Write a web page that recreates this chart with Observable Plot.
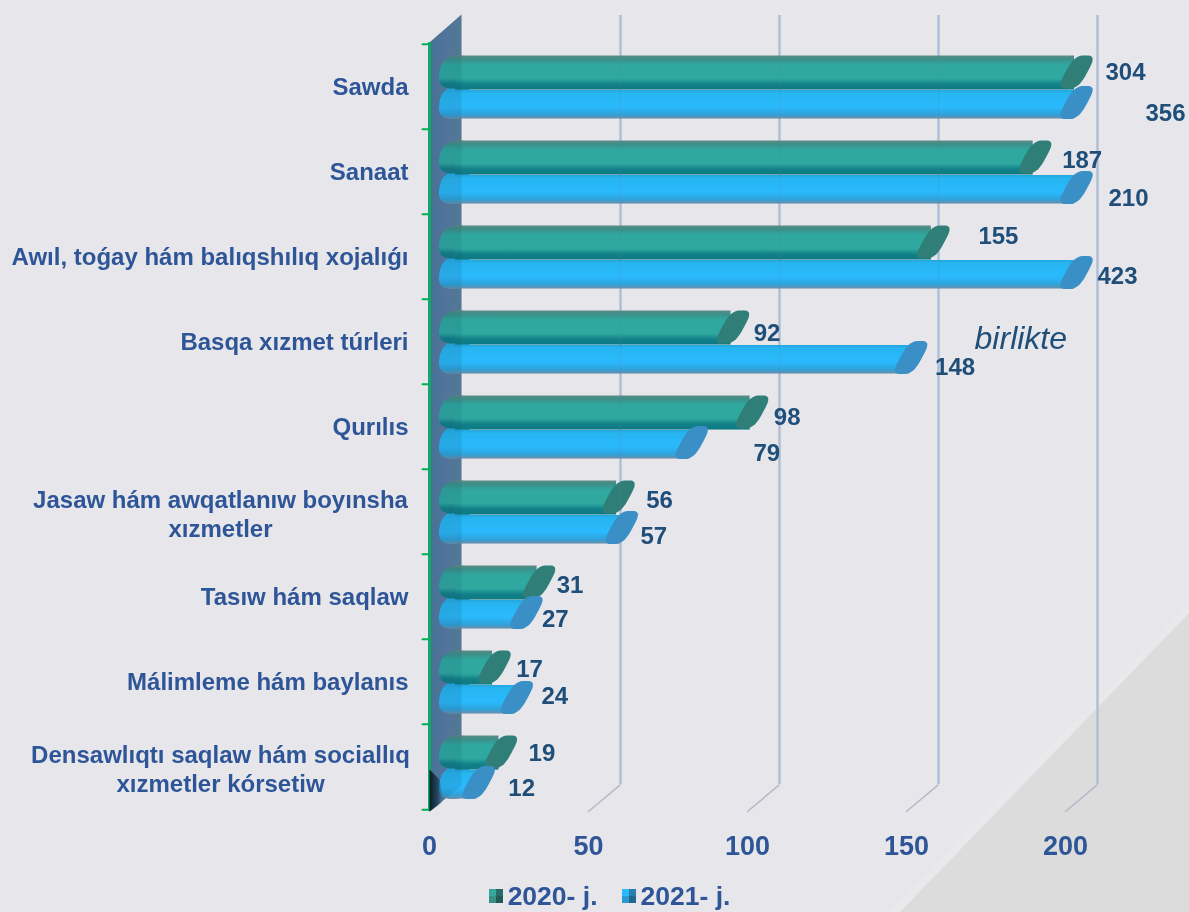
<!DOCTYPE html>
<html><head><meta charset="utf-8">
<script src="https://cdn.jsdelivr.net/npm/d3@7"></script>
<script src="https://cdn.jsdelivr.net/npm/@observablehq/plot@0.6"></script>
<style>
html{background:#e6e6eb}
html,body{margin:0;padding:0;overflow:hidden;font-family:"Liberation Sans",Arial,sans-serif}
#hl,#bg{position:fixed;left:0;top:0;width:1189px;height:912px;z-index:-1}
#hl{background:#e9e9ec;clip-path:polygon(1189px 604px,1189px 912px,888px 912px)}
#bg{background:#dcdcdc;clip-path:polygon(1189px 613px,1189px 912px,900px 912px)}
#legend{position:absolute;left:0;top:880px;width:1189px;height:32px;display:flex;justify-content:center;align-items:center;
 font:bold 26.5px "Liberation Sans",Arial,sans-serif;color:#2e5597;transform:translateX(27px)}
#legend span.i{display:flex;align-items:center;margin-right:24px}
#legend i{display:inline-block;width:14px;height:14px;margin-right:5px}
</style></head><body>
<div id="hl"></div><div id="bg"></div>
<div id="chart"></div>
<div id="legend"></div>
<script>
const categories = ["Sawda","Sanaat","Awıl, toǵay hám balıqshılıq xojalıǵı","Basqa xızmet túrleri","Qurılıs","Jasaw hám awqatlanıw boyınsha\nxızmetler","Tasıw hám saqlaw","Málimleme hám baylanıs","Densawlıqtı saqlaw hám sociallıq\nxızmetler kórsetiw"];
const values2020 = [304,187,155,92,98,56,31,17,19];
const values2021 = [356,210,423,148,79,57,27,24,12];
const xTicks = [0,50,100,150,200];
const seriesNames = ["2020- j.","2021- j."];
// hand placement of the value labels, relative to each bar's end
const nudge2020 = [[60,0],[58,3],[76,-6],[45,6],[46,5],[52,3],[42,3],[46,2],[52,1]];
const nudge2021 = [[100,10],[63,10],[52,3],[55,9],[86,10],[43,8],[40,6],[49,-2],[54,5]];

const blue = "#2e5597", navy = "#1f4e79";
const W = 1189, H = 880;
const band = (811-42)/categories.length;
const tealRows = categories.map((c,i)=>({c,v:values2020[i],n:nudge2020[i]}));
const blueRows = categories.map((c,i)=>({c,v:values2021[i],n:nudge2021[i]}));

const sp = (u,p) => Math.sign(u)*Math.pow(Math.abs(u),p);
const blob = (a,shear,p) => ({draw(ctx){ for(let k=0;k<=48;k++){const t=k/48*2*Math.PI;const c=sp(Math.cos(t),p),s=sp(Math.sin(t),p);const x=a*c-shear*s,y=16.5*s;k?ctx.lineTo(x,y):ctx.moveTo(x,y);} ctx.closePath(); }});
const endCap = blob(11,9,.62);
const startCap = blob(16,3,.8);
const wallShape = {draw(ctx){ctx.moveTo(0,0);ctx.lineTo(32,-26);ctx.lineTo(32,-797);ctx.lineTo(0,-769);ctx.closePath();}};
const cornerShape = {draw(ctx){ctx.moveTo(0,0);ctx.lineTo(14,-10);ctx.lineTo(10,-32);ctx.lineTo(0,-42);ctx.closePath();}};
const lineShape = {draw(ctx,l){ctx.moveTo(0,0);ctx.lineTo(0,-l);}};

const bodyMarks = (rows,grad,capGrad,top,bottom,capDy) => [
  Plot.dot(rows,{x:()=>0,y:"c",symbol:startCap,fill:`url(#${capGrad})`,dy:capDy,dx:26}),
  Plot.barX(rows,{x1:0,x2:"v",y:"c",fill:`url(#${grad})`,insetTop:top,insetBottom:bottom,insetLeft:26,insetRight:-9})
];
const endMarks = (rows,capFill,capDy) => [
  Plot.dot(rows,{x:"v",y:"c",symbol:endCap,fill:capFill,dy:capDy,dx:11})
];
const labelMarks = (rows,centre) => rows.map(d => Plot.text([d],{x:"v",y:"c",text:d=>String(d.v),dx:d.n[0],dy:centre+d.n[1],fill:navy,fontSize:24,fontWeight:"bold"}));

const singles = categories.filter(c=>!c.includes("\n"));
const multis = categories.filter(c=>c.includes("\n"));

const chart = Plot.plot({
  width:W,height:H,marginLeft:429,marginRight:124,marginTop:42,marginBottom:H-811,
  style:{background:"transparent",fontFamily:"'Liberation Sans',Arial,sans-serif",overflow:"visible"},
  x:{domain:[0,200],clamp:true,axis:null},
  y:{domain:categories,padding:0,axis:null},
  marks:[
    Plot.dot([0],{frameAnchor:"bottom-left",symbol:wallShape,fill:"url(#wall)"}),
    Plot.ruleX(xTicks.slice(1),{x:d=>d,dx:32,dy:-27,stroke:"#b9c8dc",strokeWidth:2.5}),
    Plot.vector(xTicks.slice(1),{x:d=>d,frameAnchor:"bottom",length:41,rotate:50,anchor:"start",shape:lineShape,stroke:"#b5b9c8",strokeWidth:1.5}),
    ...bodyMarks(blueRows,"sky","skyCap",46,band-75,15.5),
    ...bodyMarks(tealRows,"teal","teal",11.5,band-46,-15),
    ...endMarks(tealRows,"#2f7f78",-15),
    ...endMarks(blueRows,"#3a90c6",15.5),
    Plot.ruleX(xTicks.slice(1),{x:d=>d,dx:32,dy:-27,stroke:"#5b7f9f",strokeWidth:2,strokeOpacity:0.13}),
    Plot.dot([0],{frameAnchor:"bottom-left",symbol:wallShape,fill:"#16506a",fillOpacity:0.14}),
    Plot.ruleX([0],{x:d=>d,stroke:"#12a868",strokeWidth:3}),
    Plot.vector(categories,{y:d=>d,frameAnchor:"left",dy:-band/2,length:7,rotate:-90,anchor:"start",shape:lineShape,stroke:"#00b050",strokeWidth:2}),
    Plot.vector([categories[categories.length-1]],{y:d=>d,frameAnchor:"left",dy:band/2,length:7,rotate:-90,anchor:"start",shape:lineShape,stroke:"#00b050",strokeWidth:2}),
    Plot.dot([0],{frameAnchor:"bottom-left",symbol:cornerShape,fill:"url(#corner)"}),
    ...labelMarks(tealRows,-14.7),
    ...labelMarks(blueRows,16.8),
    Plot.text(singles,{y:d=>d,text:d=>d,frameAnchor:"left",textAnchor:"end",dx:-21,fill:blue,fontSize:24,fontWeight:"bold"}),
    Plot.text(multis,{y:d=>d,text:d=>d,frameAnchor:"left",textAnchor:"middle",dx:-209,dy:1,fill:blue,fontSize:24,fontWeight:"bold",lineHeight:1.2}),
    Plot.text(["birlikte"],{x:()=>185,y:()=>categories[3],text:d=>d,dx:3,dy:-3,fill:navy,fontSize:32,fontStyle:"italic"}),
    Plot.axisX({ticks:xTicks,tickSize:0,tickPadding:24,anchor:"bottom",label:null,fill:blue,fontSize:27,fontWeight:"bold"})
  ]
});
const svg = d3.select(chart);
const defs = svg.insert("defs",":first-child");
function grad(id,stops,horizontal){
  const g=defs.append("linearGradient").attr("id",id).attr("x1",0).attr("y1",0).attr("x2",horizontal?1:0).attr("y2",horizontal?0:1);
  stops.forEach(([o,c,a])=>g.append("stop").attr("offset",o).attr("stop-color",c).attr("stop-opacity",a==null?1:a));
}
grad("teal",[[0,"#5f8a85"],[.1,"#3d8f88"],[.28,"#2fa89f"],[.68,"#2fa9a0"],[.84,"#128089"],[1,"#0d7a83"]]);
grad("sky",[[0,"#23a6dd"],[.12,"#27b6f2"],[.6,"#2ab9fd"],[.85,"#2ea3dc"],[1,"#6a8fab"]]);
grad("skyCap",[[0,"#23a6dd"],[.25,"#27b6f2"],[.65,"#2ab9fd"],[.87,"#2ea3dc"],[1,"#6a8fab"]]);
grad("wall",[[0,"#4d7a9c"],[.5,"#5c7aa4"],[1,"#5d8099"]],true);
grad("corner",[[0,"#07141c",.95],[.6,"#0e2a3c",.6],[1,"#2a5a78",0]],true);
document.getElementById("chart").append(chart);

const legend = d3.select("#legend");
[["conic-gradient(#2c6a66 0 90deg,#1f5a58 90deg 180deg,#3a8f88 180deg 270deg,#37a79e 270deg)"],["conic-gradient(#2a80ac 0 90deg,#22678c 90deg 180deg,#2a9ad4 180deg 270deg,#2ab9fd 270deg)"]].forEach(([bg],i)=>{
  const s=legend.append("span").attr("class","i");
  s.append("i").style("background",bg);
  s.append("span").text(seriesNames[i]);
});
</script>
</body></html>
